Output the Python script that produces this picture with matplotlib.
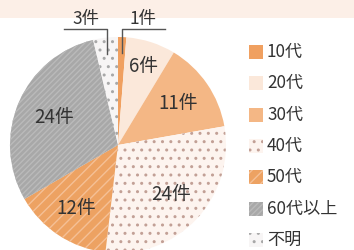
import matplotlib
matplotlib.use('Agg')
import matplotlib.pyplot as plt
from matplotlib.patches import Rectangle
import numpy as np

plt.rcParams['font.family'] = ['Noto Sans CJK JP', 'DejaVu Sans']
plt.rcParams['hatch.linewidth'] = 1.0

# data
categories = ['10代', '20代', '30代', '40代', '50代', '60代以上', '不明']
counts = [1, 6, 11, 24, 12, 24, 3]
value_labels = ['1件', '6件', '11件', '24件', '12件', '24件', '3件']

# styles
face_colors = ['#f0a060', '#fbe8da', '#f4b785', '#fdf4ef', '#eda262', '#a8a8a8', '#f7f5f5']
hatch_colors = ['#f0a060', '#fbe8da', '#f4b785', '#c2a096', '#f5c096', '#bababa', '#a8a8a8']
hatches = [None, None, None, '..', '///', '//////', '..']
label_r = [None, 0.76, 0.68, 0.67, 0.70, 0.64, None]  # None -> outside label with leader

W, H = 354, 250
cx, cy, R = 118, 105, 108
txt_color = '#333333'

fig = plt.figure(figsize=(W / 100, H / 100), dpi=100)
ax = fig.add_axes([0, 0, 1, 1])

# pink band on top
ax.add_patch(Rectangle((0, H - 18), W, 18, facecolor='#fcefe7', linewidth=0, zorder=0))

wedges, _ = ax.pie(counts, center=(cx, cy), radius=R, startangle=90, counterclock=False,
                   colors=face_colors, frame=True, wedgeprops=dict(linewidth=0))
for w, hc, h in zip(wedges, hatch_colors, hatches):
    w.set_edgecolor(hc)
    if h:
        w.set_hatch(h)
    w.set_zorder(2)

for w, lab, r in zip(wedges, value_labels, label_r):
    t = np.deg2rad((w.theta1 + w.theta2) / 2)
    if r is not None:
        ax.text(cx + r * R * np.cos(t), cy + r * R * np.sin(t), lab, ha='center', va='center',
                fontsize=13.5, color=txt_color, zorder=5)
    else:
        x0 = cx + 0.85 * R * np.cos(t)
        y0 = cy + 0.85 * R * np.sin(t)
        ytop = cy + 1.075 * R
        side = 1 if x0 > cx else -1
        ax.plot([x0, x0, x0 + side * 0.4 * R], [y0, ytop, ytop], color='#555555', lw=1, zorder=5)
        ax.text(x0 + side * 0.2 * R, ytop + 1, lab, ha='center', va='bottom',
                fontsize=12.5, color=txt_color, zorder=5)

# legend
leg_x, leg_top, step, box = 249, 198, 31.3, 14
for i, (cat, fc, hc, h) in enumerate(zip(categories, face_colors, hatch_colors, hatches)):
    y = leg_top - i * step
    ax.add_patch(Rectangle((leg_x, y - box / 2), box, box, facecolor=fc, edgecolor=hc,
                           hatch=h, linewidth=0, zorder=3))
    ax.text(leg_x + box + 4, y, cat, ha='left', va='center', fontsize=12.3, color=txt_color)

ax.set_xlim(0, W)
ax.set_ylim(0, H)
ax.axis('off')

fig.savefig('out.png', dpi=100)
